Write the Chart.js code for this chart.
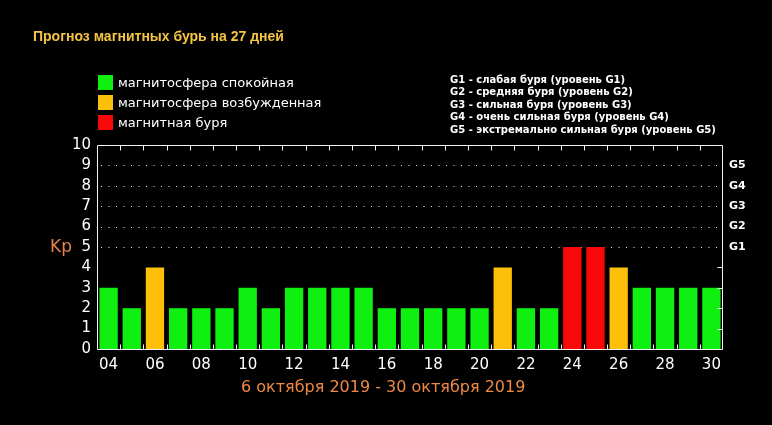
<!DOCTYPE html>
<html>
<head>
<meta charset="utf-8">
<script src="https://cdn.jsdelivr.net/npm/chart.js@4/dist/chart.umd.min.js"></script>
<style>
  html, body { margin:0; padding:0; background:#000; }
  #wrap { position:relative; width:772px; height:425px; background:#000; overflow:hidden; }
  #c { position:absolute; left:0; top:0; }
  .t { position:absolute; white-space:nowrap; }
  #title { left:33px; top:28px; font:bold 14px "Liberation Sans", Arial, sans-serif; line-height:17px; color:#f5c542; }
  .lg { position:absolute; left:98px; width:15px; height:15px; }
  .lt { left:118px; font:13px "DejaVu Sans", sans-serif; line-height:15px; color:#fff; }
  #glist { left:450px; top:74px; font:bold 10px "DejaVu Sans", sans-serif; line-height:12.4px; color:#fff; }
  #kp { left:50px; top:236px; font:17px "DejaVu Sans", sans-serif; line-height:20px; color:#e8804f; }
  #range { left:241px; top:377px; font:16px "DejaVu Sans", sans-serif; line-height:20px; color:#ee8a45; }
</style>
</head>
<body>
<div id="wrap">
  <canvas id="c" width="772" height="425" style="width:772px;height:425px"></canvas>
  <div class="t" id="title">Прогноз магнитных бурь на 27 дней</div>
  <div id="legend"></div>
  <div class="t" id="glist"></div>
  <div class="t" id="kp">Kp</div>
  <div class="t" id="range">6 октября 2019 - 30 октября 2019</div>
</div>
<script>
// ---- data ----
const days = ['04','05','06','07','08','09','10','11','12','13','14','15','16','17','18','19','20','21','22','23','24','25','26','27','28','29','30'];
const kp   = [3,2,4,2,2,2,3,2,3,3,3,3,2,2,2,2,2,4,2,2,5,5,4,3,3,3,3];
const yTicks = [0,1,2,3,4,5,6,7,8,9,10];
const gLabels = ['G1','G2','G3','G4','G5'];          // for Kp 5..9
const gLevels = [5,6,7,8,9];
const legendNames = ['магнитосфера спокойная','магнитосфера возбужденная','магнитная буря'];
const gDescriptions = [
  'G1 - слабая буря (уровень G1)',
  'G2 - средняя буря (уровень G2)',
  'G3 - сильная буря (уровень G3)',
  'G4 - очень сильная буря (уровень G4)',
  'G5 - экстремально сильная буря (уровень G5)'
];
const dateRange = '6 октября 2019 - 30 октября 2019';

// ---- styles ----
const colQuiet = '#10f010', colActive = '#fdbf0a', colStorm = '#f80808';
const legendColors = [colQuiet, colActive, colStorm];
const barColor = v => v >= 5 ? colStorm : (v >= 4 ? colActive : colQuiet);

// legend html
const lg = document.getElementById('legend');
legendNames.forEach((n, i) => {
  const sq = document.createElement('div');
  sq.className = 'lg'; sq.style.top = (75 + i*20) + 'px'; sq.style.background = legendColors[i];
  lg.appendChild(sq);
  const tx = document.createElement('div');
  tx.className = 't lt'; tx.style.top = (75 + i*20) + 'px'; tx.textContent = n;
  lg.appendChild(tx);
});
document.getElementById('glist').innerHTML = gDescriptions.join('<br>');
document.getElementById('range').textContent = dateRange;

const framePlugin = {
  id: 'frame',
  beforeDatasetsDraw(chart) {
    const {ctx, chartArea: a, scales: {y}} = chart;
    ctx.save();
    ctx.strokeStyle = '#e8e8e8';
    ctx.lineWidth = 1;
    ctx.setLineDash([1, 6.5]);
    gLevels.forEach(v => {
      const py = Math.round(y.getPixelForValue(v)) + 0.5;
      ctx.beginPath(); ctx.moveTo(a.left + 4, py); ctx.lineTo(a.right, py); ctx.stroke();
    });
    ctx.restore();
  },
  afterDatasetsDraw(chart) {
    const {ctx, chartArea: a, scales: {x, y}} = chart;
    ctx.save();
    ctx.strokeStyle = '#f4f4f4';
    ctx.lineWidth = 1;
    const L = Math.round(a.left) + 0.5, R = Math.round(a.right) - 0.5;
    const T = Math.round(a.top) + 0.5, B = Math.round(a.bottom) + 0.5;
    ctx.beginPath();
    ctx.moveTo(L, T); ctx.lineTo(R, T); ctx.lineTo(R, B); ctx.lineTo(L, B); ctx.closePath();
    ctx.stroke();
    // category boundary ticks, top and bottom
    for (let i = 1; i < days.length; i++) {
      const px = Math.round((x.getPixelForValue(i - 1) + x.getPixelForValue(i)) / 2) + 0.5;
      ctx.beginPath();
      ctx.moveTo(px, T); ctx.lineTo(px, T + 5);
      ctx.moveTo(px, B); ctx.lineTo(px, B - 5);
      ctx.stroke();
    }
    // right inward ticks for levels without grid
    yTicks.forEach(v => {
      if (v <= 0 || v >= 10 || gLevels.includes(v)) return;
      const py = Math.round(y.getPixelForValue(v)) + 0.5;
      ctx.beginPath(); ctx.moveTo(R, py); ctx.lineTo(R - 5, py); ctx.stroke();
    });
    ctx.restore();
  }
};

new Chart(document.getElementById('c'), {
  type: 'bar',
  data: {
    labels: days,
    datasets: [{
      data: kp,
      backgroundColor: kp.map(barColor),
      borderWidth: 0,
      barPercentage: 0.79,
      categoryPercentage: 1.0
    }]
  },
  options: {
    responsive: false,
    animation: false,
    devicePixelRatio: 1,
    layout: { padding: { top: 145, left: 0, right: 0, bottom: 0 } },
    plugins: { legend: { display: false }, tooltip: { enabled: false }, title: { display: false } },
    scales: {
      x: {
        grid: { display: false, drawTicks: false },
        border: { display: false },
        ticks: {
          autoSkip: false, maxRotation: 0, padding: 7,
          color: '#ffffff', font: { family: 'DejaVu Sans', size: 15 },
          callback: (v, i) => (i % 2 === 0 ? days[i] : '')
        },
        afterFit: s => { s.height = 76; }
      },
      y: {
        min: 0, max: 10,
        grid: { display: false, drawTicks: false },
        border: { display: false },
        ticks: {
          stepSize: 1, padding: 6, autoSkip: false,
          color: '#ffffff', font: { family: 'DejaVu Sans', size: 15 },
          callback: v => (yTicks.includes(v) ? String(v) : '')
        },
        afterFit: s => { s.width = 97; }
      },
      y2: {
        position: 'right',
        min: 0, max: 10,
        grid: { display: false, drawTicks: false },
        border: { display: false },
        ticks: {
          stepSize: 1, padding: 6, autoSkip: false,
          color: '#ffffff', font: { family: 'DejaVu Sans', size: 11, weight: 'bold' },
          callback: v => { const k = gLevels.indexOf(v); return k >= 0 ? gLabels[k] : ''; }
        },
        afterFit: s => { s.width = 49; }
      }
    }
  },
  plugins: [framePlugin]
});
</script>
</body>
</html>
